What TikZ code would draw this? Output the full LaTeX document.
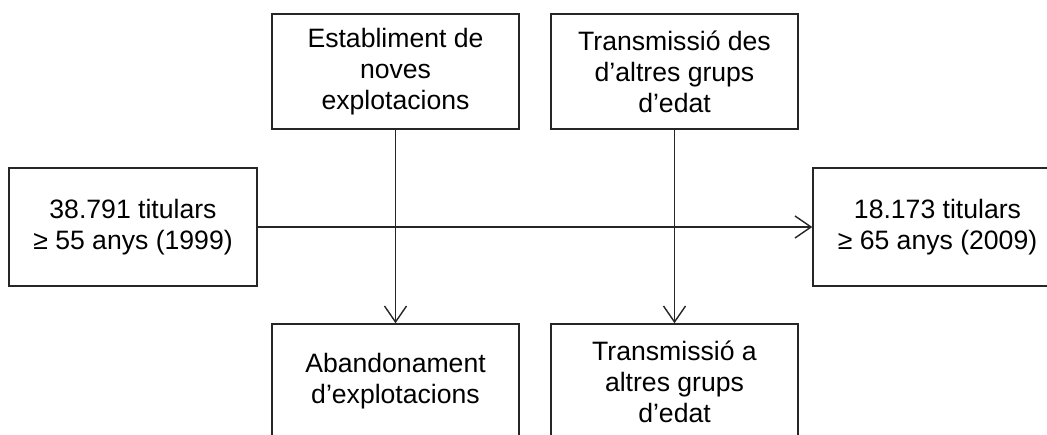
\documentclass[tikz,border=0pt]{standalone}
\usepackage{fontspec}
\setmainfont{Liberation Sans}
\usetikzlibrary{arrows.meta}
\begin{document}
\begin{tikzpicture}[x=1pt,y=-1pt,
  box/.style={draw=black!85,line width=1.5pt,rectangle,align=center,inner sep=0pt,
    font=\fontsize{26.6}{31}\selectfont},
  conn/.style={draw=black!85,line width=1.6pt,-{Straight Barb[length=16pt,width=22pt,line width=1.4pt]}}]
\useasboundingbox (0,0) rectangle (1047,435);
\clip (0,0) rectangle (1047,435);
\fill[white] (0,0) rectangle (1047,435);
\node[box,minimum width=247pt,minimum height=115pt] (est) at (395.5,71.5) {Establiment de\\noves\\explotacions};
\node[box,minimum width=247pt,minimum height=115pt] (tdes) at (674.5,71.5) {Transmissió des\\d’altres grups\\d’edat};
\node[box,minimum width=248pt,minimum height=118pt] (t99) at (133,227) {38.791 titulars\\≥ 55 anys (1999)};
\node[box,minimum width=249pt,minimum height=118pt] (t09) at (937.5,227) {18.173 titulars\\≥ 65 anys (2009)};
\node[box,minimum width=247pt,minimum height=115pt] (aband) at (395.5,381.5) {Abandonament\\d’explotacions};
\node[box,minimum width=247pt,minimum height=115pt] (ta) at (674.5,381.5) {Transmissió a\\altres grups\\d’edat};
\draw[conn] (t99.east) -- (t09.west);
\draw[conn] (est.south) -- (aband.north);
\draw[conn] (tdes.south) -- (ta.north);
\end{tikzpicture}
\end{document}
